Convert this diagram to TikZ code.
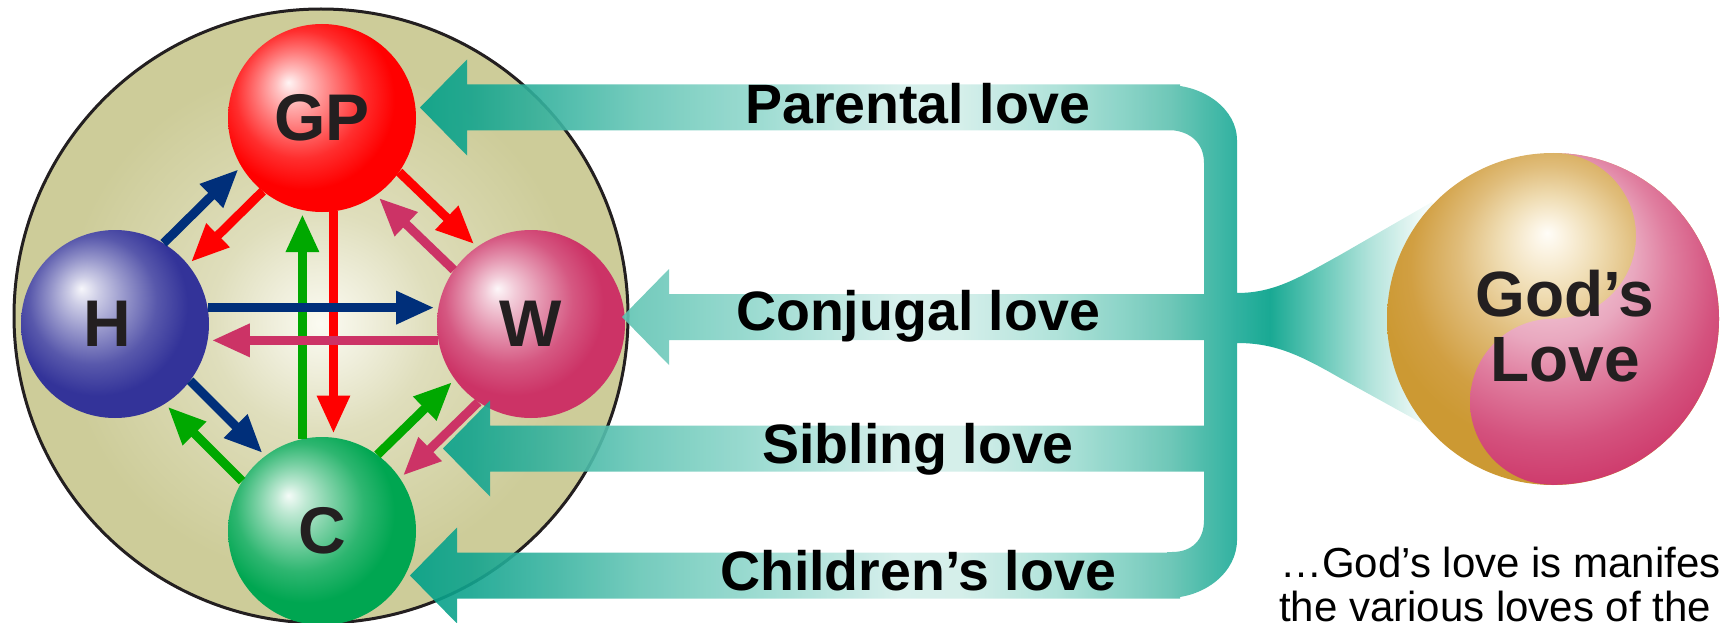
\documentclass[tikz,border=0pt]{standalone}
\usepackage{fontspec}
\setmainfont{Liberation Sans}
\usetikzlibrary{arrows.meta, positioning}

\definecolor{ink}{HTML}{231F20}
\definecolor{olive}{HTML}{CDCC99}
\definecolor{glowA}{HTML}{FBFBF2}
\definecolor{glowB}{HTML}{EFEEDB}
\definecolor{glowC}{HTML}{DFDEBC}
\definecolor{glowD}{HTML}{D6D5AA}
\definecolor{gpred}{HTML}{FF0000}
\definecolor{hblue}{HTML}{333399}
\definecolor{wpink}{HTML}{CC3366}
\definecolor{cgreen}{HTML}{00A651}
\definecolor{navy}{HTML}{002F7A}
\definecolor{arrgreen}{HTML}{00A800}
% teal strip, sampled left to right
\definecolor{tA}{HTML}{00A088}
\definecolor{tB}{HTML}{12A48E}
\definecolor{tC}{HTML}{3DB5A2}
\definecolor{tD}{HTML}{66C6B6}
\definecolor{tE}{HTML}{93D8CD}
\definecolor{tF}{HTML}{D3EEEA}
\definecolor{tG}{HTML}{D0EDE8}
\definecolor{tH}{HTML}{A6DFD5}
\definecolor{tI}{HTML}{7ACDBF}
\definecolor{tJ}{HTML}{5FC1B0}
\definecolor{tK}{HTML}{3BB5A2}
\definecolor{tL}{HTML}{1AA996}
\definecolor{tM}{HTML}{00A088}
\definecolor{tN}{HTML}{55C2B0}
\definecolor{tO}{HTML}{A9E0D7}
\definecolor{tP}{HTML}{F3FBF9}
% God's love
\definecolor{goldA}{HTML}{FFFDF8}
\definecolor{goldB}{HTML}{FBF3E2}
\definecolor{goldC}{HTML}{EFDCB2}
\definecolor{goldD}{HTML}{E0BD7B}
\definecolor{goldE}{HTML}{D19F42}
\definecolor{gold}{HTML}{CC9933}
\definecolor{rosaA}{HTML}{F8E0E8}
\definecolor{rosaB}{HTML}{F0C0D0}
\definecolor{rosaC}{HTML}{E9A8BF}
\definecolor{rosaD}{HTML}{E07FA0}
\definecolor{rosaE}{HTML}{D4527E}

\colorlet{spherecol}{red}

\pgfdeclareradialshading[spherecol]{pearl}{\pgfpoint{-9bp}{9.5bp}}{%
  color(0bp)=(spherecol!4!white); color(4bp)=(spherecol!25!white);
  color(10bp)=(spherecol!52!white); color(17bp)=(spherecol!82!white);
  color(24bp)=(spherecol); color(50bp)=(spherecol)}
\pgfdeclareradialshading{glow}{\pgfpoint{0bp}{-0.6bp}}{%
  color(0bp)=(glowA); color(4bp)=(glowB); color(9bp)=(glowC);
  color(15bp)=(glowD); color(21bp)=(olive); color(50bp)=(olive)}
\pgfdeclareradialshading{godgold}{\pgfpoint{-0.9bp}{13bp}}{%
  color(0bp)=(goldA); color(2.3bp)=(goldB); color(7.5bp)=(goldC);
  color(13.5bp)=(goldD); color(21bp)=(goldE); color(25.6bp)=(gold); color(50bp)=(gold)}
\pgfdeclareradialshading{godpink}{\pgfpoint{-0.9bp}{13bp}}{%
  color(0bp)=(rosaA); color(8bp)=(rosaB); color(13bp)=(rosaC);
  color(18bp)=(rosaD); color(25bp)=(rosaE); color(32bp)=(wpink); color(50bp)=(wpink)}
\pgfdeclarehorizontalshading{lovestrip}{100bp}{%
  color(0bp)=(tA); color(25bp)=(tA); color(27.78bp)=(tB); color(31.94bp)=(tC);
  color(35.65bp)=(tD); color(41.2bp)=(tE); color(47.69bp)=(tF); color(50.46bp)=(tG);
  color(55.09bp)=(tH); color(58.33bp)=(tI); color(60.19bp)=(tJ); color(61.76bp)=(tK);
  color(63.29bp)=(tL); color(64.81bp)=(tM); color(67.13bp)=(tN); color(69.44bp)=(tO);
  color(71.99bp)=(tP); color(75bp)=(white); color(100bp)=(white)}

\tikzset{
  tinta/.code      = {\colorlet{spherecol}{#1}},
  person/.style    = {circle, minimum size=188pt, inner sep=0pt, shade, shading=pearl,
                      font=\fontsize{66}{66}\selectfont\bfseries, text=ink},
  bond/.style      = {line width=9pt, -{Triangle[length=38pt,width=31pt]}, shorten >=4pt},
  lovetext/.style  = {anchor=base, inner sep=0pt, font=\fontsize{55.5}{55.5}\selectfont\bfseries},
  godtext/.style   = {inner sep=0pt, align=center, text=ink,
                      font=\fontsize{64}{65}\selectfont\bfseries},
  note/.style      = {anchor=base west, inner sep=0pt, font=\fontsize{42}{42}\selectfont}
}

\begin{document}
\begin{tikzpicture}[x=1pt, y=-1pt]
  \useasboundingbox (0,0) rectangle (1721,623);

  % family circle
  \node[circle, minimum size=614pt, inner sep=0pt, draw=ink, line width=3pt,
        shade, shading=glow] (famiglia) at (321,316) {};

  \node[person, tinta=gpred]  (GP) at (322,118) {GP};
  \node[person, tinta=hblue]  (H)  at (115,324) {\hspace*{-16pt}H};
  \node[person, tinta=wpink]  (W)  at (531,324) {W};
  \node[person, tinta=cgreen] (C)  at (322,531) {C};

  % vertical and horizontal
  \draw[bond, arrgreen] (C.102) -- (GP.258);
  \draw[bond, gpred]    (GP.277) -- (C.83);
  \draw[bond, navy]     (H.10) -- (W.170);
  \draw[bond, wpink]    (W.190) -- (H.350);

  % diagonals
  \draw[bond, navy]     (H.59) -- (GP.211);
  \draw[bond, gpred]    (GP.231) -- (H.39);
  \draw[bond, gpred]    (GP.325) -- (W.125);
  \draw[bond, wpink]    (W.145) -- (GP.305);
  \draw[bond, navy]     (H.323) -- (C.127);
  \draw[bond, arrgreen] (C.148) -- (H.302);
  \draw[bond, arrgreen] (C.54) -- (W.216);
  \draw[bond, wpink]    (W.236) -- (C.34);

  % teal arrows, frame and funnel
  \shade[shading=lovestrip, opacity=0.9]
    \foreach \tx/\ty/\ex in {420/107.5/1180, 622/317/1220, 443/448.5/1220, 410/575.5/1180}
      {(\tx,\ty) -- ++(47,-48) -- ++(0,25) -- (\ex,\ty-23) -- (\ex,\ty+23)
       -- (\tx+47,\ty+23) -- ++(0,25) -- cycle}
    (1167,85) .. controls (1205,85) and (1237,110) .. (1237,140) -- (1237,540)
      .. controls (1237,572) and (1205,598) .. (1167,598) -- (1167,552) -- (1172,552)
      .. controls (1192,552) and (1204,540) .. (1204,520) -- (1204,163)
      .. controls (1204,143) and (1190,130) .. (1167,130) -- cycle
    (1230,293) -- (1237,293) .. controls (1275,293) and (1300,277) .. (1340,255)
      -- (1432,202) -- (1490,319) -- (1425,425) -- (1340,378)
      .. controls (1300,355) and (1275,343) .. (1237,343) -- (1230,343) -- cycle;

  \node[lovetext] (parental) at (918,124) {Parental love};
  \node[lovetext] (conjugal) at (918,330) {Conjugal love};
  \node[lovetext] (sibling)  at (918,463) {Sibling love};
  \node[lovetext] (children) at (918,590) {Children’s love};

  % God's love
  \node[circle, minimum size=332pt, inner sep=0pt, shade, shading=godgold] (dio) at (1553,319) {};
  \begin{scope}
    \clip (dio.north) arc (270:450:83) arc (270:90:83) arc (90:-90:166) -- cycle;
    \shade[shading=godpink] (dio.center) circle (166);
  \end{scope}
  \node[godtext] (diotesto) at (1565,326) {God’s\\Love};

  \node[note] (nota1) at (1280,577) {…God’s love is manifes};
  \node[note] (nota2) at (1279,621) {the various loves of the};
\end{tikzpicture}
\end{document}
